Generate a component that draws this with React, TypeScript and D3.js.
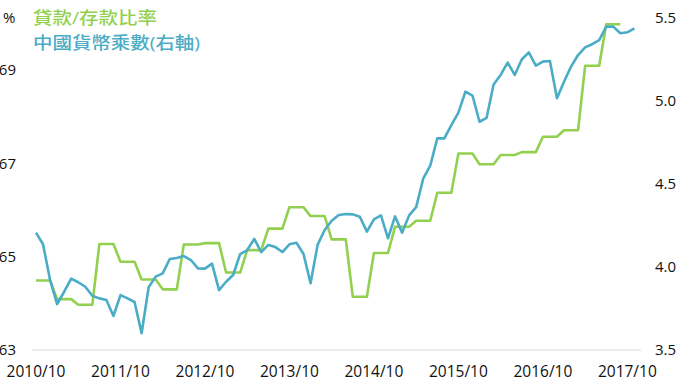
import React, { useEffect } from "react";
import * as d3 from "d3";

const legendLabels = ["貸款/存款比率", "中國貨幣乘數(右軸)"];
const unitLabel = "%";
const leftTicks = [63, 65, 67, 69];
const rightTicks = [3.5, 4.0, 4.5, 5.0, 5.5];
const xTickIdx = [0, 12, 24, 36, 48, 60, 72, 84];

// Loan/deposit ratio (%), monthly from 2010/10 (quarterly values held)
const loanDeposit = [
  64.49, 64.49, 64.49, 64.09, 64.09, 64.09, 63.97, 63.97, 63.97, 65.27, 65.27, 65.27,
  64.89, 64.89, 64.89, 64.51, 64.51, 64.51, 64.3, 64.3, 64.3, 65.26, 65.26, 65.26,
  65.29, 65.29, 65.29, 64.66, 64.66, 64.66, 65.14, 65.14, 65.14, 65.6, 65.6, 65.6,
  66.06, 66.06, 66.06, 65.87, 65.87, 65.87, 65.37, 65.37, 65.37, 64.14, 64.14, 64.14,
  65.08, 65.08, 65.08, 65.64, 65.64, 65.64, 65.77, 65.77, 65.77, 66.37, 66.37, 66.37,
  67.21, 67.21, 67.21, 66.98, 66.98, 66.98, 67.18, 67.18, 67.18, 67.24, 67.24, 67.24,
  67.57, 67.57, 67.57, 67.71, 67.71, 67.71, 69.09, 69.09, 69.09, 69.98, 69.98, 69.98,
];

// Money multiplier (right axis), monthly from 2010/10
const multiplier = [
  4.207, 4.137, 3.922, 3.777, 3.851, 3.93, 3.908, 3.881, 3.827, 3.811, 3.801, 3.705,
  3.831, 3.811, 3.789, 3.601, 3.878, 3.942, 3.962, 4.048, 4.054, 4.066, 4.042, 3.992,
  3.99, 4.02, 3.861, 3.911, 3.952, 4.078, 4.102, 4.169, 4.09, 4.133, 4.12, 4.09,
  4.137, 4.146, 4.078, 3.902, 4.133, 4.223, 4.279, 4.313, 4.319, 4.317, 4.303, 4.213,
  4.287, 4.311, 4.173, 4.305, 4.207, 4.311, 4.361, 4.532, 4.61, 4.775, 4.775, 4.855,
  4.93, 5.056, 5.033, 4.875, 4.898, 5.099, 5.157, 5.231, 5.157, 5.25, 5.293, 5.213,
  5.237, 5.241, 5.016, 5.116, 5.207, 5.277, 5.323, 5.342, 5.367, 5.448, 5.448, 5.408,
  5.414, 5.438,
];

const months = d3.timeMonth.range(new Date(2010, 9, 1), new Date(2017, 11, 1));
const fmt = d3.timeFormat("%Y/%m");

const GREEN = "#92D050";
const CYAN = "#4BACC6";
const FONT = "'Open Sans', 'Noto Sans CJK TC', sans-serif";

export default function App() {
  useEffect(() => {
    document.body.style.margin = "0";
  }, []);
  const W = 680, H = 382;
  const x = d3.scaleLinear().domain([0, months.length - 1]).range([36, 634.4]);
  const yL = d3.scaleLinear().domain([63, 69]).range([350, 70]);
  const yR = d3.scaleLinear().domain([3.5, 5.5]).range([350, 18]);
  const lineL = d3.line<number>().x((_, i) => x(i)).y((d) => yL(d));
  const lineR = d3.line<number>().x((_, i) => x(i)).y((d) => yR(d));
  return (
    <svg width={W} height={H} style={{ display: "block", fontFamily: FONT }}>
      <rect width={W} height={H} fill="#fff" />
      <line x1={32} x2={641} y1={yL(63)} y2={yL(63)} stroke="#d9d9d9" strokeWidth={1} />
      {leftTicks.map((t) => (
        <text key={t} x={16} y={yL(t)} dy="0.35em" textAnchor="end" fontSize={15} fill="#111">
          {t}
        </text>
      ))}
      {rightTicks.map((t) => (
        <text key={t} x={655} y={yR(t)} dy="0.35em" textAnchor="start" fontSize={15} fill="#111">
          {d3.format(".1f")(t)}
        </text>
      ))}
      {xTickIdx.map((i) => (
        <text key={i} x={x(i)} y={371.5} dy="0.35em" textAnchor="middle" fontSize={15.5} fill="#111">
          {fmt(months[i])}
        </text>
      ))}
      <path d={lineL(loanDeposit) || ""} fill="none" stroke={GREEN} strokeWidth={2.6} strokeLinejoin="round" />
      <path d={lineR(multiplier) || ""} fill="none" stroke={CYAN} strokeWidth={2.6} strokeLinejoin="round" />
      <text x={3} y={18} dy="0.35em" fontSize={15} fill="#111">{unitLabel}</text>
      <text x={33} y={18} dy="0.35em" fontSize={17} fill={GREEN} fontWeight={500} textLength={124} lengthAdjust="spacingAndGlyphs">{legendLabels[0]}</text>
      <text x={33} y={43} dy="0.35em" fontSize={17} fill={CYAN} fontWeight={500} textLength={167} lengthAdjust="spacingAndGlyphs">{legendLabels[1]}</text>
    </svg>
  );
}
